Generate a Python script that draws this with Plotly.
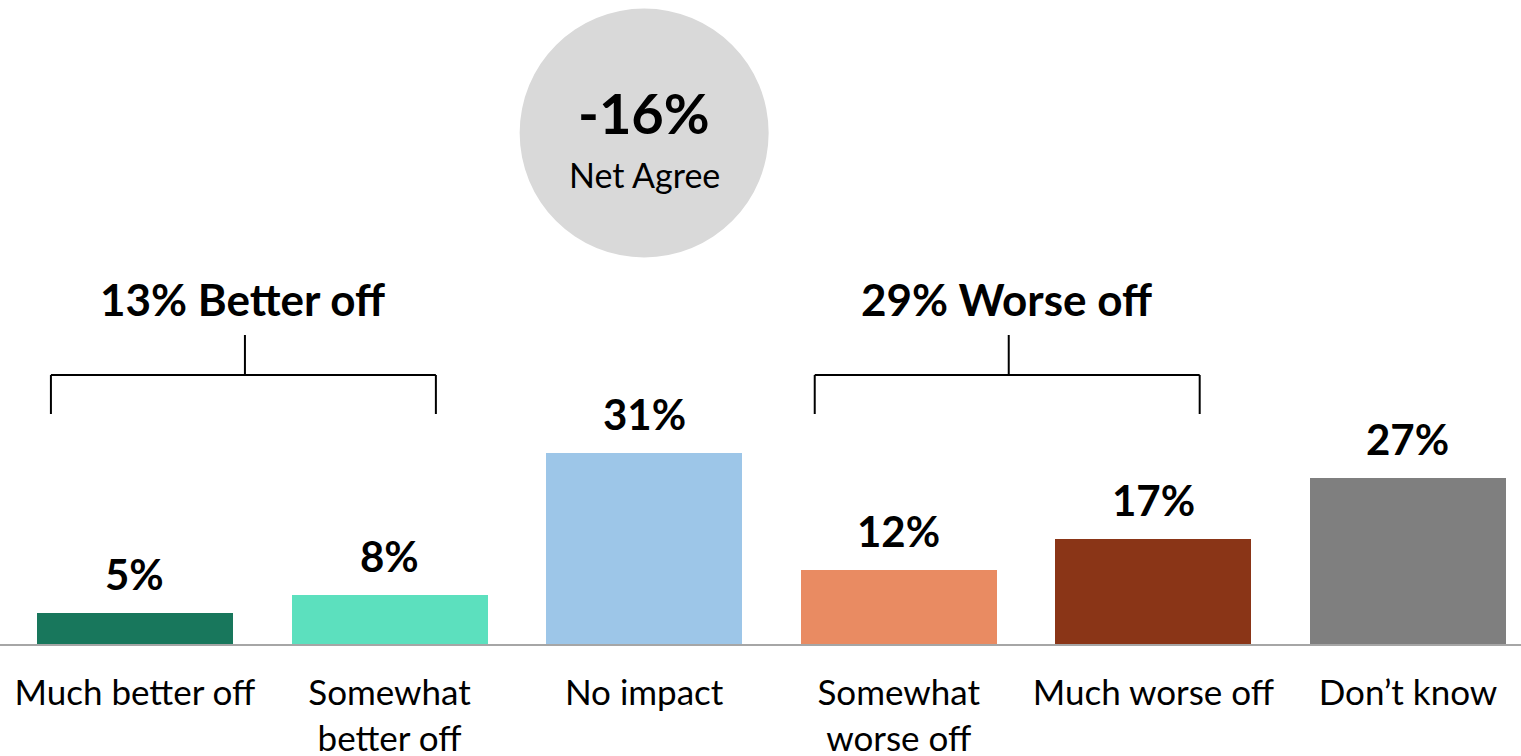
import plotly.graph_objects as go

categories = ["Much better off", "Somewhat<br>better off", "No impact",
              "Somewhat<br>worse off", "Much worse off", "Don’t know"]
values = [5, 8, 31, 12, 17, 27]
colors = ["#18775C", "#5CE0BE", "#9DC6E8", "#E98B62", "#8A3517", "#7F7F7F"]
value_labels = ["5%", "8%", "31%", "12%", "17%", "27%"]

net_value = "-16%"
net_label = "Net Agree"
group_titles = ["13% Better off", "29% Worse off"]

FONT = "Lato, Calibri, Carlito, 'Open Sans', sans-serif"
xpos = list(range(len(categories)))

fig = go.Figure()
fig.add_trace(go.Bar(
    x=xpos, y=values, marker_color=colors, width=0.77,
    marker_line_width=0, hoverinfo="skip", showlegend=False,
))

# value labels above bars
for xi, v, t in zip(xpos, values, value_labels):
    fig.add_annotation(x=xi, y=v, xref="x", yref="y", text=f"<b>{t}</b>",
                       showarrow=False, yanchor="bottom", yshift=12,
                       font=dict(family=FONT, size=42, color="#000000"))

def ypaper(pix):
    return (644 - pix) / 644

# net circle
fig.add_shape(type="circle", xref="x", yref="paper",
              xsizemode="pixel", ysizemode="pixel",
              xanchor=2, yanchor=ypaper(133),
              x0=-124.5, x1=124.5, y0=-124.5, y1=124.5,
              fillcolor="#D9D9D9", line_width=0, layer="below")
fig.add_annotation(x=2, xref="x", y=ypaper(113), yref="paper", yanchor="middle",
                   text=f"<b>{net_value}</b>", showarrow=False,
                   font=dict(family=FONT, size=56, color="#000000"))
fig.add_annotation(x=2, xref="x", y=ypaper(174), yref="paper", yanchor="middle",
                   text=net_label, showarrow=False,
                   font=dict(family=FONT, size=34, color="#000000"))

# brackets
for g, (left, right, stem) in enumerate([(-0.33, 1.182, 0.432), (2.67, 4.182, 3.432)]):
    line = dict(color="#000000", width=2)
    fig.add_shape(type="line", xref="x", yref="paper", x0=left, x1=right,
                  y0=ypaper(375), y1=ypaper(375), line=line)
    fig.add_shape(type="line", xref="x", yref="paper", x0=left, x1=left,
                  y0=ypaper(375), y1=ypaper(414), line=line)
    fig.add_shape(type="line", xref="x", yref="paper", x0=right, x1=right,
                  y0=ypaper(375), y1=ypaper(414), line=line)
    fig.add_shape(type="line", xref="x", yref="paper", x0=stem, x1=stem,
                  y0=ypaper(375), y1=ypaper(335), line=line)
    fig.add_annotation(x=stem - 0.01, xref="x", y=ypaper(299), yref="paper",
                       yanchor="middle",
                       text=f"<b>{group_titles[g]}</b>", showarrow=False,
                       font=dict(family=FONT, size=44, color="#000000"))

fig.update_layout(
    width=1521, height=756,
    margin=dict(l=0, r=0, t=0, b=112, autoexpand=False),
    paper_bgcolor="white", plot_bgcolor="white",
    bargap=0,
    xaxis=dict(range=[-0.530, 5.444], tickmode="array", tickvals=xpos,
               ticktext=categories, showgrid=False, zeroline=False,
               showline=True, linecolor="#A6A6A6", linewidth=2,
               ticks="", ticklabelstandoff=17, automargin=False,
               tickfont=dict(family=FONT, size=35, color="#000000"),
               fixedrange=True),
    yaxis=dict(range=[0, 104.7], visible=False, fixedrange=True,
               automargin=False),
    font=dict(family=FONT),
)

fig.write_html("out.html", config={"displayModeBar": False},
               post_script="document.body.style.margin='0';document.body.style.overflow='hidden';")
